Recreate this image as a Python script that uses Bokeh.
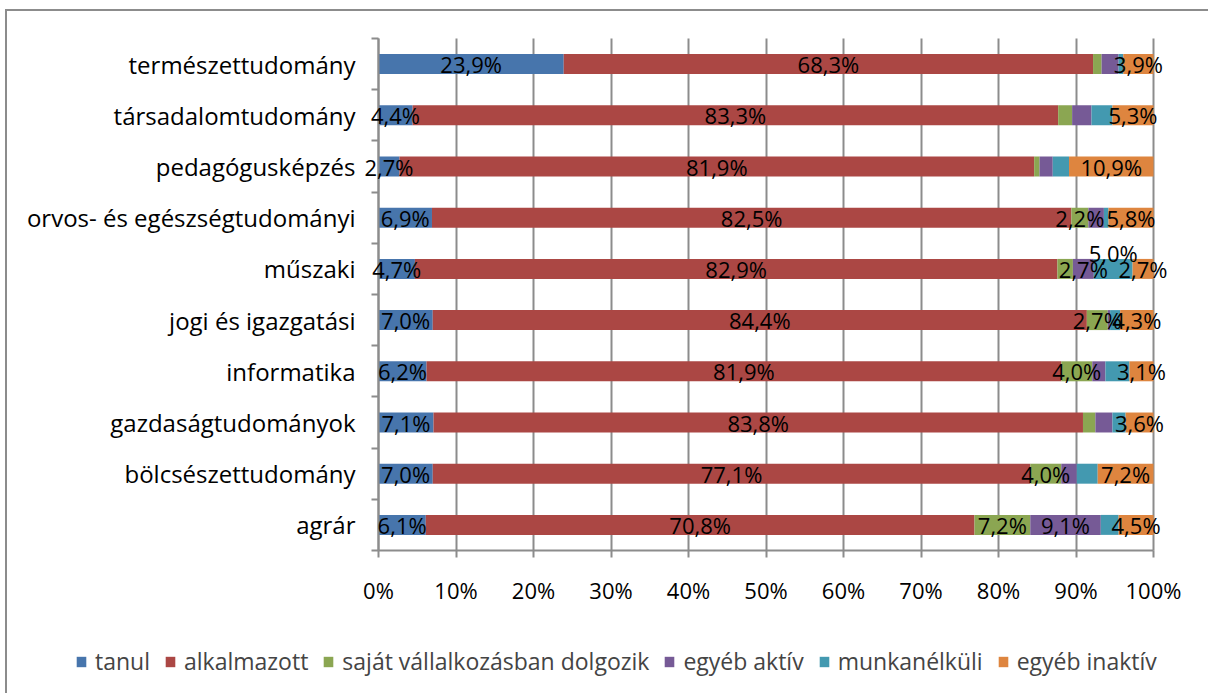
from bokeh.plotting import figure
from bokeh.models import (ColumnDataSource, LinearAxis, FixedTicker, LabelSet,
                          Legend, LegendItem, Range1d)
from bokeh.core.properties import value
from bokeh.embed import file_html
from bokeh.resources import INLINE

# ---- data (rows listed top to bottom) ----
categories = ["természettudomány", "társadalomtudomány", "pedagógusképzés",
              "orvos- és egészségtudományi", "műszaki", "jogi és igazgatási",
              "informatika", "gazdaságtudományok", "bölcsészettudomány", "agrár"]
series_names = ["tanul", "alkalmazott", "saját vállalkozásban dolgozik",
                "egyéb aktív", "munkanélküli", "egyéb inaktív"]
tanul = [23.9, 4.4, 2.7, 6.9, 4.7, 7.0, 6.2, 7.1, 7.0, 6.1]
alkalmazott = [68.3, 83.3, 81.9, 82.5, 82.9, 84.4, 81.9, 83.8, 77.1, 70.8]
sajat = [1.1, 1.8, 0.7, 2.2, 2.0, 2.7, 4.0, 1.6, 4.0, 7.2]
egyeb_aktiv = [2.2, 2.5, 1.7, 2.0, 2.7, 0.3, 1.7, 2.2, 2.0, 9.1]
munkanelkuli = [0.6, 2.7, 2.1, 0.6, 5.0, 1.3, 3.1, 1.7, 2.7, 2.3]
egyeb_inaktiv = [3.9, 5.3, 10.9, 5.8, 2.7, 4.3, 3.1, 3.6, 7.2, 4.5]
# which data labels are shown in the original
show_tanul = [True] * 10
show_alk = [True] * 10
show_sajat = [False, False, False, True, False, True, True, False, True, True]
show_aktiv = [False, False, False, False, True, False, False, False, False, True]
show_munk = [False, False, False, False, True, False, False, False, False, False]
show_inakt = [True] * 10
x_ticks = [0, 10, 20, 30, 40, 50, 60, 70, 80, 90, 100]
x_tick_labels = ["0%", "10%", "20%", "30%", "40%", "50%", "60%", "70%", "80%", "90%", "100%"]

colors = ["#4775AC", "#AB4744", "#8BA652", "#765A96", "#4399B0", "#DE853F"]
FONT = "Open Sans"
GRID = "#8c8c8c"

series = [tanul, alkalmazott, sajat, egyeb_aktiv, munkanelkuli, egyeb_inaktiv]
shows = [show_tanul, show_alk, show_sajat, show_aktiv, show_munk, show_inakt]
keys = ["s0", "s1", "s2", "s3", "s4", "s5"]

n = len(categories)
ypos = [n - 1 - i + 0.5 for i in range(n)]
data = {"y": ypos}
for k, s in zip(keys, series):
    data[k] = s
source = ColumnDataSource(data)

# layout: whole canvas is the plot frame; axes are pinned inside it
W, H = 1208, 693
AX_L, AX_R = 378.0, 1153.0      # pixel of 0% and 100%
AX_T, AX_B = 38.0, 550.0        # pixel of top and bottom of the category band
xs = (AX_R - AX_L) / 100.0
ys = (AX_B - AX_T) / n
x_range = Range1d(-AX_L / xs, (W - AX_L) / xs)
y_range = Range1d(-(H - AX_B) / ys, n + AX_T / ys)

p = figure(width=W, height=H, output_backend="svg", toolbar_location=None,
           x_range=x_range, y_range=y_range, min_border=0,
           x_axis_location=None, y_axis_location=None)
p.border_fill_alpha = 0
p.background_fill_alpha = 0
p.styles = {
    "background": ("linear-gradient(#8c8c8c,#8c8c8c) 5px 9px / 2px 100% no-repeat, "
                   "linear-gradient(#8c8c8c,#8c8c8c) 5px 9px / 100% 2px no-repeat, white"),
}
p.outline_line_color = None
p.ygrid.grid_line_color = None
p.xgrid.ticker = FixedTicker(ticks=x_ticks)
p.xgrid.bounds = (0, 100)
p.xgrid.cross_bounds = (0, n)
p.xgrid.grid_line_color = GRID
p.xgrid.grid_line_width = 2

renderers = p.hbar_stack(keys, y="y", height=0.39, color=colors, source=source,
                         line_color=None)

# x axis pinned at y = 0
xaxis = LinearAxis(ticker=FixedTicker(ticks=x_ticks), bounds=(0, 100), fixed_location=0,
                   major_label_overrides={t: l for t, l in zip(x_ticks, x_tick_labels)})
xaxis.axis_line_color = GRID
xaxis.axis_line_width = 2
xaxis.major_tick_line_color = GRID
xaxis.major_tick_line_width = 2
xaxis.major_tick_out = 7
xaxis.major_tick_in = 0
xaxis.minor_tick_line_color = None
xaxis.major_label_text_font = FONT
xaxis.major_label_text_font_size = "22px"
xaxis.major_label_text_color = "black"
xaxis.major_label_standoff = 17
p.add_layout(xaxis, "below")

# y axis line + ticks at category boundaries, pinned at x = 0
bounds = list(range(0, n + 1))
ytick_axis = LinearAxis(ticker=FixedTicker(ticks=bounds), fixed_location=0, bounds=(0, n),
                        major_label_overrides={b: "" for b in bounds})
ytick_axis.axis_line_color = GRID
ytick_axis.axis_line_width = 2
ytick_axis.major_tick_line_color = GRID
ytick_axis.major_tick_line_width = 2
ytick_axis.major_tick_out = 7
ytick_axis.major_tick_in = 0
ytick_axis.minor_tick_line_color = None
ytick_axis.major_label_standoff = 0
ytick_axis.major_label_text_font_size = "1px"
p.add_layout(ytick_axis, "left")

# category labels
ylabel_axis = LinearAxis(ticker=FixedTicker(ticks=ypos), fixed_location=0,
                         major_label_overrides={y: c for y, c in zip(ypos, categories)})
ylabel_axis.axis_line_color = None
ylabel_axis.major_tick_line_color = None
ylabel_axis.minor_tick_line_color = None
ylabel_axis.major_tick_out = 0
ylabel_axis.major_tick_in = 0
ylabel_axis.major_label_text_font = FONT
ylabel_axis.major_label_text_font_size = "24px"
ylabel_axis.major_label_text_color = "black"
ylabel_axis.major_label_standoff = 23
p.add_layout(ylabel_axis, "left")

# data labels
lx, ly, lt = [], [], []
for i in range(n):
    left = 0.0
    for s, sh in zip(series, shows):
        v = s[i]
        if sh[i]:
            yy = ypos[i]
            if s is munkanelkuli:
                yy += 0.31
            lx.append(left + v / 2)
            ly.append(yy)
            lt.append(f"{v:.1f}%".replace(".", ","))
        left += v
lab_src = ColumnDataSource(dict(x=lx, y=ly, text=lt))
labels = LabelSet(x="x", y="y", text="text", source=lab_src,
                  text_align="center", text_baseline="middle",
                  text_font=value(FONT), text_font_size="22px", text_color="black")
p.add_layout(labels)

# legend
items = [LegendItem(label=nm, renderers=[r]) for nm, r in zip(series_names, renderers)]
legend = Legend(items=items, orientation="horizontal", location=(75, 16),
                label_text_font=FONT, label_text_font_size="23px",
                glyph_width=12, glyph_height=13, label_standoff=8, spacing=14,
                padding=0, margin=0, border_line_color=None,
                background_fill_alpha=0)
p.add_layout(legend, "center")

open("out.html", "w").write(file_html(p, INLINE))
